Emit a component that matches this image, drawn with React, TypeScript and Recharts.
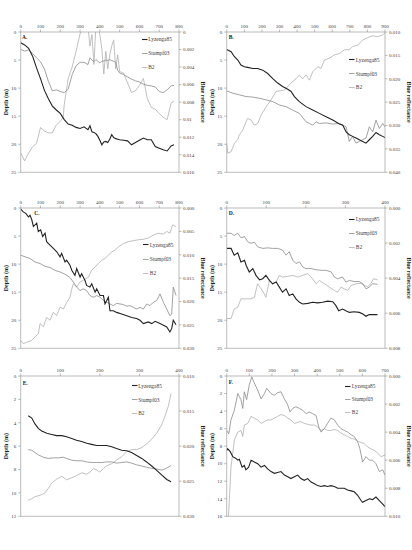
import React from 'react';
import { ComposedChart, Line, XAxis, YAxis, Legend, ReferenceLine } from 'recharts';

type Pt = [number, number];

// ---------- series identity ----------
const SERIES_NAMES = ['Lyzenga85', 'Stumpf03', 'B2'];

// ---------- tick values ----------
const X_TICKS_800 = [0, 100, 200, 300, 400, 500, 600, 700, 800];
const X_TICKS_900 = [0, 100, 200, 300, 400, 500, 600, 700, 800, 900];
const X_TICKS_400 = [0, 100, 200, 300, 400];
const X_TICKS_700 = [0, 100, 200, 300, 400, 500, 600, 700];
const DEPTH_TICKS_25 = [0, 5, 10, 15, 20, 25];
const DEPTH_TICKS_12 = [0, 2, 4, 6, 8, 10, 12];
const DEPTH_TICKS_16 = [0, 2, 4, 6, 8, 10, 12, 14, 16];
const REFL_TICKS_A = [0, 0.002, 0.004, 0.006, 0.008, 0.01, 0.012, 0.014, 0.016];
const REFL_TICKS_B = [0.01, 0.015, 0.02, 0.025, 0.03, 0.035, 0.04];
const REFL_TICKS_C = [0, 0.005, 0.01, 0.015, 0.02, 0.025, 0.03];
const REFL_TICKS_D = [0, 0.002, 0.004, 0.006, 0.008];
const REFL_TICKS_E = [0.01, 0.015, 0.02, 0.025, 0.03];
const REFL_TICKS_F = [0, 0.002, 0.004, 0.006, 0.008, 0.01];

// ---------- Panel A ----------
const A_LYZ: Pt[] = [[0,1.9],[20,2.3],[40,2.9],[60,4.3],[80,6.4],[100,8.3],[120,10.4],[140,11.9],[160,13.2],[180,13.9],[200,14.5],[220,15.6],[240,16.4],[260,16.6],[280,17.0],[300,17.2],[320,16.9],[340,17.4],[350,16.7],[360,17.8],[370,17.9],[380,18.1],[390,18.6],[400,19.3],[410,20.1],[420,19.6],[430,19.5],[440,19.7],[450,19.1],[460,18.3],[470,18.8],[480,19.0],[490,19.1],[500,19.2],[520,19.3],[540,19.4],[560,20.1],[580,19.7],[600,19.3],[620,18.9],[640,19.2],[660,19.2],[680,20.4],[700,20.7],[720,21.0],[740,21.2],[760,20.3],[775,20.1]];
const A_STU: Pt[] = [[0,3.1],[20,3.4],[40,3.2],[60,3.8],[80,4.6],[100,5.3],[120,6.6],[140,8.8],[160,10.5],[180,10.3],[200,10.6],[220,10.8],[240,10.2],[260,7.6],[280,6.0],[300,5.4],[320,5.4],[340,5.8],[350,4.6],[360,5.0],[370,5.3],[380,4.9],[390,5.2],[400,5.5],[410,5.2],[420,5.2],[430,5.0],[440,5.1],[450,4.9],[460,5.1],[470,5.2],[480,5.4],[490,6.8],[500,7.3],[520,7.6],[540,8.0],[560,8.4],[580,8.7],[600,8.9],[620,9.3],[640,9.5],[660,9.6],[680,9.8],[700,10.6],[720,10.8],[740,10.3],[760,9.6],[775,9.5]];
const A_B2: Pt[] = [[0,0.0138],[20,0.0147],[40,0.0138],[60,0.0131],[80,0.0127],[100,0.0109],[120,0.0113],[140,0.0115],[160,0.0115],[180,0.0106],[200,0.0102],[215,0.0097],[220,0.0083],[240,0.0053],[260,0.004],[280,0.0022],[300,0.0002],[320,-0.0006],[340,-0.0006],[350,0.0016],[360,0.0003],[370,0.0037],[380,-0.0006],[390,-0.0006],[400,0.0003],[410,0.0019],[420,0.0048],[430,0.0022],[440,0.0042],[450,0.0026],[460,0.0016],[470,0.0009],[480,0.0042],[490,0.0026],[500,0.0045],[520,0.0047],[540,0.0058],[560,0.0069],[580,0.0067],[600,0.0061],[620,0.0053],[640,0.0076],[660,0.0086],[680,0.0088],[700,0.0093],[720,0.0097],[740,0.01],[760,0.0081],[775,0.0079]];

// ---------- Panel B ----------
const B_LYZ: Pt[] = [[0,3.1],[25,3.5],[44,4.4],[63,5.0],[81,5.9],[100,6.2],[119,6.3],[148,6.5],[176,6.5],[205,6.8],[233,7.4],[262,8.3],[290,9.1],[318,9.7],[347,10.2],[366,10.6],[385,11.5],[413,12.4],[451,13.3],[489,13.9],[527,14.5],[565,15.1],[603,15.7],[641,16.4],[660,16.6],[679,17.8],[697,18.3],[716,18.6],[735,18.9],[754,19.2],[773,19.5],[792,19.8],[811,19.2],[830,18.6],[849,17.9],[868,18.3],[887,18.6],[900,18.8]];
const B_STU: Pt[] = [[0,10.5],[34,10.9],[72,11.2],[110,11.5],[148,11.6],[186,11.8],[224,12.1],[262,12.4],[299,13.0],[337,13.3],[375,13.9],[413,14.5],[451,16.0],[470,16.3],[489,16.6],[508,16.0],[527,16.3],[565,16.2],[603,16.4],[641,16.3],[660,16.6],[679,16.9],[697,19.5],[716,18.6],[735,19.8],[754,19.5],[773,19.2],[792,18.9],[811,16.9],[830,17.8],[849,15.7],[868,17.2],[887,16.3],[900,16.9]];
const B_B2: Pt[] = [[0,0.0338],[6,0.0359],[25,0.0356],[44,0.0338],[63,0.033],[72,0.032],[91,0.031],[110,0.0292],[119,0.0285],[138,0.0288],[157,0.0299],[176,0.0296],[195,0.0278],[224,0.026],[252,0.0245],[281,0.0227],[299,0.0226],[328,0.0224],[356,0.0213],[375,0.0206],[394,0.02],[413,0.0192],[432,0.02],[451,0.0192],[470,0.0203],[489,0.0185],[518,0.0174],[536,0.0178],[555,0.016],[584,0.0156],[612,0.0149],[641,0.0146],[669,0.0138],[697,0.0138],[716,0.0131],[745,0.0128],[773,0.0117],[802,0.0112],[830,0.0108],[858,0.011],[887,0.0106],[900,0.0102]];

// ---------- Panel C ----------
const C_LYZ: Pt[] = [[0,0.2],[13,0.7],[27,1.0],[39,1.6],[47,1.3],[56,2.1],[64,3.3],[81,2.7],[89,4.2],[101,3.9],[111,5.1],[123,4.5],[131,6.0],[148,6.6],[165,7.2],[182,7.8],[199,8.7],[207,8.1],[224,9.6],[232,9.3],[249,10.2],[258,11.1],[274,12.0],[283,10.8],[300,12.3],[308,11.7],[325,12.9],[333,13.8],[350,14.1],[359,13.5],[376,15.0],[384,14.4],[401,15.6],[418,15.6],[426,17.1],[435,16.5],[443,15.9],[451,18.3],[468,18.3],[485,18.6],[510,18.9],[536,19.2],[561,19.5],[586,19.7],[603,20.0],[620,20.6],[645,20.3],[662,20.6],[679,20.2],[704,20.6],[721,20.9],[738,21.2],[754,22.1],[763,21.5],[771,20.0],[785,20.8]];
const C_STU: Pt[] = [[0,8.4],[22,8.7],[47,9.0],[72,9.6],[98,9.9],[123,10.4],[148,10.6],[173,11.1],[199,11.4],[224,11.8],[249,12.4],[266,13.2],[283,14.1],[300,14.7],[316,14.4],[333,14.7],[350,15.6],[367,15.9],[384,15.6],[401,15.9],[418,16.5],[435,16.8],[451,17.1],[468,17.4],[485,17.0],[502,17.1],[519,17.2],[536,17.5],[552,17.4],[569,17.7],[586,18.0],[603,17.7],[620,18.0],[637,17.1],[653,17.4],[670,16.8],[687,16.5],[704,15.3],[721,16.8],[738,18.0],[754,19.2],[763,18.9],[771,14.1],[785,15.6]];
const C_B2: Pt[] = [[0,0.0283],[13,0.029],[30,0.0287],[56,0.0283],[72,0.0276],[89,0.0269],[98,0.0247],[115,0.0254],[131,0.0234],[148,0.024],[165,0.0223],[182,0.023],[199,0.0212],[216,0.0216],[232,0.0202],[249,0.0191],[258,0.0173],[266,0.0162],[283,0.0169],[300,0.0158],[316,0.0155],[342,0.0148],[359,0.0133],[376,0.0126],[392,0.0119],[409,0.0112],[426,0.0108],[443,0.0101],[460,0.0094],[477,0.009],[494,0.0083],[519,0.0076],[544,0.0072],[569,0.007],[594,0.0068],[620,0.0067],[645,0.0064],[670,0.0058],[695,0.0054],[721,0.0056],[738,0.005],[754,0.0054],[768,0.0036],[785,0.004]];

// ---------- Panel D ----------
const D_LYZ: Pt[] = [[0,7.2],[11,7.2],[19,8.4],[28,8.0],[36,9.6],[45,9.3],[49,10.2],[57,11.4],[66,10.8],[74,12.0],[83,12.8],[91,12.6],[99,12.0],[108,12.9],[116,13.5],[125,13.2],[133,14.1],[141,15.0],[150,14.4],[158,15.6],[167,15.3],[175,16.2],[184,16.8],[192,17.1],[205,17.0],[217,16.8],[230,16.9],[242,16.8],[255,16.6],[268,16.7],[276,17.4],[283,18.3],[293,18.0],[301,18.3],[310,18.6],[322,18.5],[335,18.6],[344,18.9],[352,19.3],[360,19.0],[369,19.0],[381,19.0]];
const D_STU: Pt[] = [[0,4.5],[11,4.5],[19,4.9],[28,4.5],[36,5.3],[45,5.1],[53,6.0],[61,6.3],[70,6.1],[78,6.9],[91,7.2],[104,7.1],[116,7.2],[129,7.2],[141,7.5],[150,8.4],[158,7.8],[167,9.3],[175,9.9],[184,9.6],[192,10.5],[200,10.8],[213,10.8],[226,11.0],[238,11.1],[251,11.1],[264,11.4],[272,12.3],[280,12.6],[293,12.3],[301,13.2],[310,12.9],[322,13.1],[335,13.1],[344,13.5],[352,14.4],[360,14.1],[369,13.5],[381,13.6]];
const D_B2: Pt[] = [[0,0.0063],[11,0.0063],[19,0.00576],[28,0.00566],[36,0.00518],[49,0.00518],[61,0.00518],[70,0.00509],[78,0.00432],[87,0.00461],[95,0.0049],[99,0.00509],[108,0.00413],[116,0.00432],[125,0.00422],[133,0.00384],[141,0.00394],[154,0.0039],[167,0.00384],[179,0.00394],[192,0.00384],[205,0.00374],[217,0.00403],[226,0.00432],[234,0.00413],[247,0.00432],[259,0.00451],[272,0.0047],[280,0.0048],[289,0.00451],[297,0.00461],[306,0.0047],[314,0.00442],[327,0.00432],[339,0.00429],[348,0.00442],[356,0.00448],[364,0.00432],[371,0.00403],[381,0.0041]];

// ---------- Panel E ----------
const E_LYZ: Pt[] = [[19,3.4],[28,3.6],[36,4.1],[45,4.5],[53,4.7],[66,4.9],[78,5.0],[91,5.1],[104,5.1],[116,5.2],[129,5.35],[141,5.5],[154,5.6],[167,5.75],[179,5.85],[192,5.95],[205,5.95],[217,5.95],[230,6.05],[242,6.2],[255,6.35],[268,6.4],[280,6.55],[293,6.8],[306,7.05],[318,7.35],[331,7.7],[343,8.05],[356,8.45],[369,8.85],[380,9.05]];
const E_STU: Pt[] = [[19,6.3],[28,6.35],[36,6.55],[45,6.75],[57,6.95],[70,7.05],[83,7.0],[95,7.0],[108,6.95],[116,7.05],[129,7.2],[141,7.25],[154,7.25],[167,7.35],[179,7.4],[192,7.4],[205,7.4],[217,7.35],[230,7.35],[242,7.45],[255,7.4],[268,7.35],[280,7.45],[293,7.6],[306,7.7],[318,7.8],[331,7.9],[343,7.95],[356,8.05],[364,7.95],[373,7.8],[380,7.65]];
const E_B2: Pt[] = [[19,0.0277],[28,0.0275],[36,0.0272],[49,0.027],[61,0.0267],[70,0.026],[78,0.0253],[91,0.0247],[104,0.0243],[116,0.0248],[129,0.0245],[141,0.0242],[154,0.0238],[167,0.024],[175,0.0237],[184,0.0232],[192,0.0234],[200,0.0237],[209,0.0232],[217,0.0228],[230,0.0225],[242,0.022],[255,0.0215],[268,0.0208],[280,0.0205],[293,0.0205],[306,0.0202],[318,0.0197],[331,0.019],[343,0.0182],[356,0.017],[364,0.0158],[373,0.0143],[380,0.0125]];

// ---------- Panel F ----------
const F_LYZ: Pt[] = [[0,8.5],[4,8.3],[15,8.6],[27,9.2],[41,9.4],[49,9.6],[56,9.5],[68,10.4],[78,10.2],[85,10.7],[97,10.4],[108,9.6],[122,9.8],[137,10.0],[152,10.4],[167,10.2],[181,10.6],[196,10.9],[211,11.1],[225,11.0],[240,10.9],[255,11.3],[270,11.5],[284,11.7],[299,11.5],[314,11.3],[328,11.7],[343,11.9],[358,11.7],[373,12.1],[388,12.3],[402,12.5],[417,12.6],[432,12.5],[446,12.6],[461,12.5],[476,12.6],[491,12.8],[505,12.8],[520,12.8],[535,13.0],[550,13.1],[564,13.2],[579,13.6],[594,14.2],[601,14.4],[616,14.2],[631,14.0],[645,14.1],[660,13.8],[675,14.2],[690,14.6],[700,14.9]];
const F_STU: Pt[] = [[0,6.2],[9,6.6],[19,5.0],[34,3.9],[49,2.0],[63,2.7],[71,3.7],[78,1.8],[88,2.7],[100,1.0],[111,0.1],[122,0.8],[137,1.6],[152,2.6],[167,2.0],[177,1.4],[196,2.0],[211,2.2],[225,1.9],[240,1.8],[255,2.6],[270,3.3],[280,4.1],[292,3.7],[306,3.5],[321,3.7],[336,3.9],[351,4.3],[365,4.1],[380,4.3],[395,4.5],[407,5.8],[417,6.4],[432,6.0],[446,5.4],[461,4.8],[476,5.0],[491,5.6],[505,6.0],[520,6.2],[535,6.4],[550,6.7],[564,6.9],[579,7.5],[589,8.3],[601,9.8],[616,9.2],[631,9.6],[645,9.6],[660,10.0],[675,10.9],[690,10.7],[700,11.3]];
const F_B2: Pt[] = [[8,0.01],[19,0.0065],[34,0.00456],[49,0.004],[63,0.00388],[71,0.00431],[78,0.0035],[93,0.00338],[108,0.00288],[122,0.003],[137,0.00313],[152,0.00338],[167,0.00325],[181,0.00313],[196,0.00313],[211,0.003],[225,0.00288],[240,0.00275],[255,0.00281],[270,0.003],[284,0.00313],[299,0.00338],[314,0.00331],[328,0.00325],[343,0.00338],[358,0.00344],[373,0.0035],[388,0.0035],[402,0.00363],[417,0.00388],[432,0.00375],[446,0.00388],[461,0.00388],[476,0.00381],[491,0.00388],[505,0.00406],[520,0.00419],[535,0.00431],[550,0.00444],[564,0.0045],[579,0.00463],[594,0.00475],[608,0.00481],[623,0.00506],[638,0.00519],[653,0.00531],[668,0.0055],[682,0.00575],[700,0.00563]];

// ---------- styling ----------
const FONT = '"Liberation Serif", "Times New Roman", serif';
const AXIS_COLOR = '#8f8f8f';
const TEXT_COLOR = '#404040';
const STYLES = [
  { color: '#222222', width: 1.1 },
  { color: '#8a8a8a', width: 0.8 },
  { color: '#b0b0b0', width: 0.8 },
];

const fmtShort = (v: number) => (v === 0 ? '0' : String(parseFloat(v.toFixed(3))));
const fmt3 = (v: number) => v.toFixed(3);

const toRows = (pts: Pt[]) => pts.map(([d, v]) => ({ d, v }));

type Cfg = {
  letter: string;
  left: number;
  top: number;
  xTicks: number[];
  depthTicks: number[];
  reflTicks: number[];
  fmt: (v: number) => string;
  lyz: Pt[];
  stu: Pt[];
  b2: Pt[];
  letterX: number;
  letterY: number;
  legendX: number;
  legendY: number;
  legendRow: number;
};

const PANELS: Cfg[] = [
  { letter: 'A.', left: 0, top: 0, xTicks: X_TICKS_800, depthTicks: DEPTH_TICKS_25, reflTicks: REFL_TICKS_A, fmt: fmtShort, lyz: A_LYZ, stu: A_STU, b2: A_B2, letterX: 22, letterY: 38.5, legendX: 141.7, legendY: 39.3, legendRow: 14 },
  { letter: 'B.', left: 206, top: 0, xTicks: X_TICKS_900, depthTicks: DEPTH_TICKS_25, reflTicks: REFL_TICKS_B, fmt: fmt3, lyz: B_LYZ, stu: B_STU, b2: B_B2, letterX: 22.7, letterY: 38.7, legendX: 143.3, legendY: 60, legendRow: 13.7 },
  { letter: 'C.', left: 0, top: 176, xTicks: X_TICKS_800, depthTicks: DEPTH_TICKS_25, reflTicks: REFL_TICKS_C, fmt: fmt3, lyz: C_LYZ, stu: C_STU, b2: C_B2, letterX: 34.3, letterY: 39, legendX: 143.3, legendY: 69, legendRow: 14.2 },
  { letter: 'D.', left: 206, top: 176, xTicks: X_TICKS_400, depthTicks: DEPTH_TICKS_25, reflTicks: REFL_TICKS_D, fmt: fmt3, lyz: D_LYZ, stu: D_STU, b2: D_B2, letterX: 22.7, letterY: 39, legendX: 143.3, legendY: 43.3, legendRow: 14 },
  { letter: 'E.', left: 0, top: 344, xTicks: X_TICKS_400, depthTicks: DEPTH_TICKS_12, reflTicks: REFL_TICKS_E, fmt: fmt3, lyz: E_LYZ, stu: E_STU, b2: E_B2, letterX: 22.7, letterY: 41, legendX: 131.7, legendY: 42, legendRow: 13.7 },
  { letter: 'F.', left: 206, top: 344, xTicks: X_TICKS_700, depthTicks: DEPTH_TICKS_16, reflTicks: REFL_TICKS_F, fmt: fmt3, lyz: F_LYZ, stu: F_STU, b2: F_B2, letterX: 22.7, letterY: 40, legendX: 139.3, legendY: 42, legendRow: 13 },
];

const CHART_W = 206;
const CHART_H = 180;
const PLOT_TOP = 32;
const PLOT_BOTTOM = 172.3;
const PLOT_MID = (PLOT_TOP + PLOT_BOTTOM) / 2;

const tickStyle = { fontFamily: FONT, fontSize: 5, fill: TEXT_COLOR };
const lineStyle = { stroke: AXIS_COLOR, strokeWidth: 0.6 };

function makeLegend(rowH: number) {
  return () => (
    <div style={{ fontFamily: FONT, fontSize: 5.4, color: TEXT_COLOR, whiteSpace: 'nowrap' }}>
      {SERIES_NAMES.map((name, i) => (
        <div key={name} style={{ display: 'flex', alignItems: 'center', height: rowH }}>
          <svg width={6} height={3} style={{ marginRight: 0.5, display: 'block' }}>
            <line x1={0} y1={1.5} x2={5.5} y2={1.5} stroke={STYLES[i].color} strokeWidth={STYLES[i].width} />
          </svg>
          <span style={{ lineHeight: '6px' }}>{name}</span>
        </div>
      ))}
    </div>
  );
}

function Panel({ cfg }: { cfg: Cfg }) {
  const xMax = cfg.xTicks[cfg.xTicks.length - 1];
  const dMax = cfg.depthTicks[cfg.depthTicks.length - 1];
  const rDomain: [number, number] = [cfg.reflTicks[0], cfg.reflTicks[cfg.reflTicks.length - 1]];
  const seriesData = [cfg.lyz, cfg.stu, cfg.b2];
  const order = [2, 1, 0];
  return (
    <div style={{ position: 'absolute', left: cfg.left, top: cfg.top, width: CHART_W, height: CHART_H }}>
      <ComposedChart width={CHART_W} height={CHART_H} margin={{ top: 20, right: 0, bottom: CHART_H - PLOT_BOTTOM, left: 0 }}>
        <XAxis
          xAxisId="x"
          type="number"
          dataKey="d"
          orientation="top"
          domain={[0, xMax]}
          ticks={cfg.xTicks}
          interval={0}
          allowDataOverflow
          height={12}
          tickSize={2.5}
          tickMargin={1.2}
          tick={tickStyle}
          axisLine={lineStyle}
          tickLine={lineStyle}
        />
        <YAxis
          yAxisId="depth"
          type="number"
          orientation="left"
          reversed
          domain={[0, dMax]}
          ticks={cfg.depthTicks}
          interval={0}
          allowDataOverflow
          width={20.7}
          tickSize={2.5}
          tickMargin={2}
          tick={tickStyle}
          axisLine={lineStyle}
          tickLine={lineStyle}
        />
        <YAxis
          yAxisId="refl"
          type="number"
          orientation="right"
          reversed
          domain={rDomain}
          ticks={cfg.reflTicks}
          interval={0}
          allowDataOverflow
          width={27}
          tickSize={2.5}
          tickMargin={1.5}
          tickFormatter={cfg.fmt}
          tick={tickStyle}
          axisLine={lineStyle}
          tickLine={lineStyle}
        />
        <ReferenceLine xAxisId="x" yAxisId="depth" y={dMax} stroke={AXIS_COLOR} strokeWidth={0.6} />
        {order.map((i) => (
          <Line
            key={SERIES_NAMES[i]}
            name={SERIES_NAMES[i]}
            xAxisId="x"
            yAxisId={i === 2 ? 'refl' : 'depth'}
            data={toRows(seriesData[i])}
            dataKey="v"
            type="linear"
            stroke={STYLES[i].color}
            strokeWidth={STYLES[i].width}
            dot={false}
            activeDot={false}
            isAnimationActive={false}
          />
        ))}
        <Legend
          layout="vertical"
          align="center"
          verticalAlign="middle"
          content={makeLegend(cfg.legendRow)}
          wrapperStyle={{ left: cfg.legendX, top: cfg.legendY - cfg.legendRow / 2, width: 'auto', height: 'auto', right: 'auto', bottom: 'auto' }}
        />
        <text x={cfg.letterX} y={cfg.letterY} fontFamily={FONT} fontSize={5.5} fontWeight="bold" fill="#222">
          {cfg.letter}
        </text>
        <text
          x={6.5}
          y={PLOT_MID}
          transform={`rotate(-90 6.5 ${PLOT_MID})`}
          textAnchor="middle"
          dominantBaseline="central"
          fontFamily={FONT}
          fontSize={6}
          fontWeight="bold"
          fill="#222"
        >
          Depth (m)
        </text>
        <text
          x={203}
          y={PLOT_MID}
          transform={`rotate(90 203 ${PLOT_MID})`}
          textAnchor="middle"
          dominantBaseline="central"
          fontFamily={FONT}
          fontSize={6}
          fontWeight="bold"
          fill="#222"
        >
          Blue reflectance
        </text>
      </ComposedChart>
    </div>
  );
}

export default function App() {
  return (
    <div style={{ position: 'absolute', left: 0, top: 0, width: 412, height: 550, background: '#fff', overflow: 'hidden' }}>
      {PANELS.map((p) => (
        <Panel key={p.letter} cfg={p} />
      ))}
    </div>
  );
}
